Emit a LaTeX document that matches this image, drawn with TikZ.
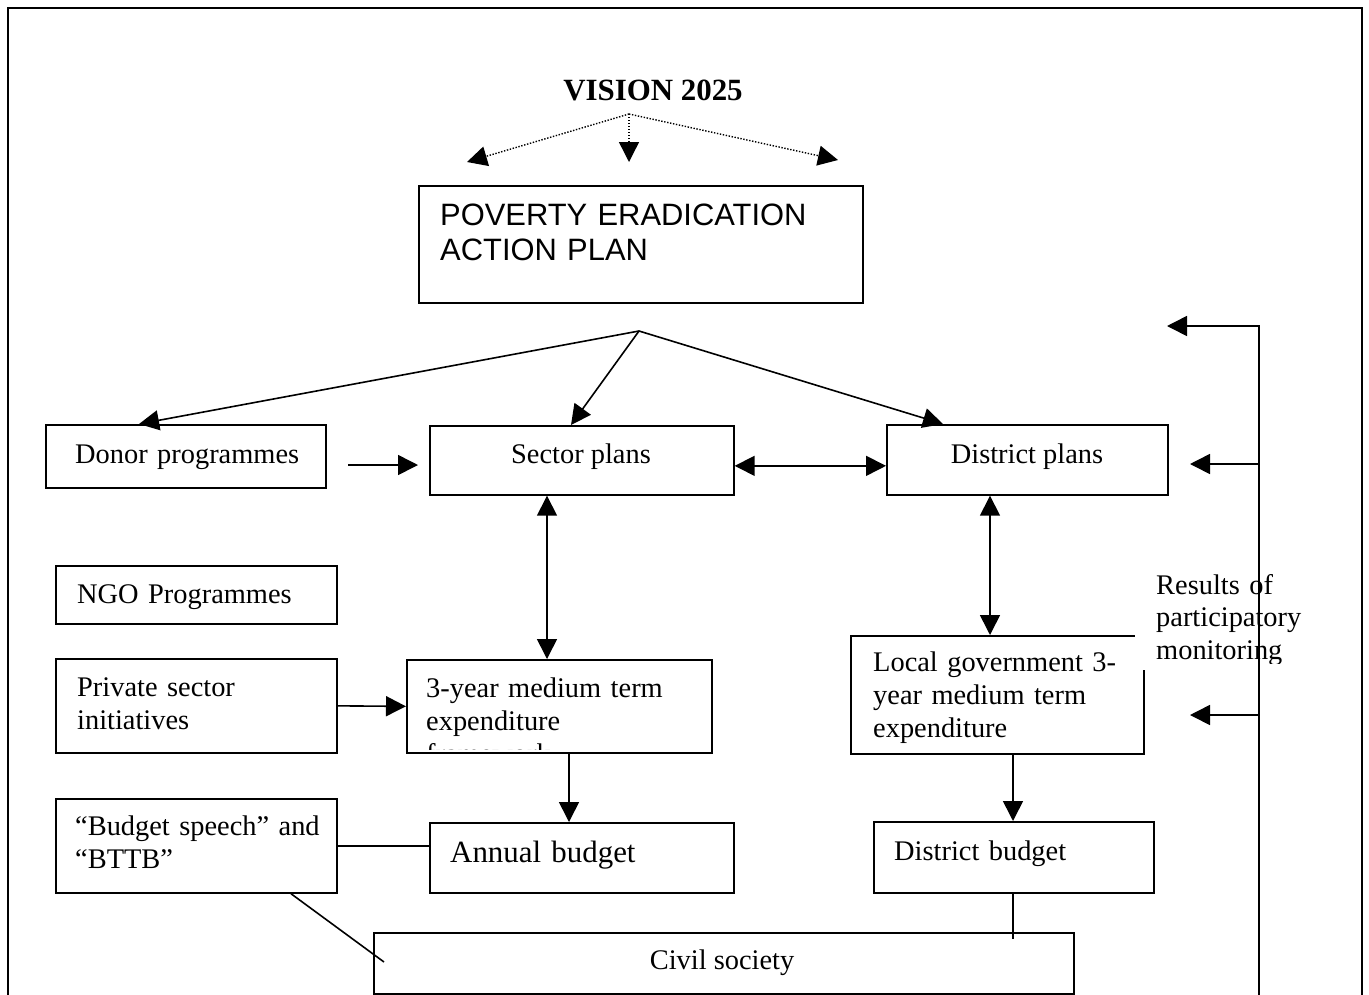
\documentclass[tikz,border=0pt]{standalone}
\usepackage{fontspec}
\setmainfont{Liberation Serif}
\newfontfamily\arialfont{Liberation Sans}
\usetikzlibrary{arrows.meta,calc}
\begin{document}
\begin{tikzpicture}[x=1pt,y=-1pt,
  boxn/.style={draw, line width=1.7pt, rectangle, inner sep=0pt, anchor=north west},
  txt/.style={font=\fontsize{28.4}{33}\selectfont, anchor=base west, inner sep=0pt, text width=300pt, align=left},
  ctxt/.style={font=\fontsize{28.4}{33}\selectfont, anchor=base, inner sep=0pt},
  arr/.style={line width=1.6pt, -{Triangle[length=20pt,width=20pt]}},
  darr/.style={line width=1.6pt, {Triangle[length=20pt,width=20pt]}-{Triangle[length=20pt,width=20pt]}},
  dotarr/.style={line width=1.4pt, dash pattern=on 1.4pt off 1.6pt, -{Triangle[length=20pt,width=20pt]}},
  ln/.style={line width=1.6pt}]
\useasboundingbox (0,0) rectangle (1369,994);
\clip (0,0) rectangle (1369,994);
\fill[white] (0,0) rectangle (1369,994);
% outer frame
\draw[line width=2pt] (8,8) rectangle (1362,1010);

% Vision
\node[font=\bfseries\fontsize{30.9}{35}\selectfont, anchor=base, inner sep=0pt] (vision) at (653,100) {VISION 2025};
\coordinate (vapex) at (629,114);
\coordinate (vL) at (467,162);
\coordinate (vM) at (629,162);
\coordinate (vR) at (838,160);
\draw[dotarr] (vapex) -- (vL);
\draw[dotarr] (vapex) -- (vM);
\draw[dotarr] (vapex) -- (vR);

% PEAP
\node[boxn, minimum width=444, minimum height=117] (peap) at (418,185) {};
\node[font=\arialfont\fontsize{30.9}{35}\selectfont, anchor=base west, inner sep=0pt, text width=420pt, align=left] (peapT) at (440,225) {POVERTY ERADICATION\\ACTION PLAN};

% row 1
\node[boxn, minimum width=280, minimum height=63] (donor) at (45,424) {};
\node[txt] (donorT) at (75,463) {Donor programmes};
\node[boxn, minimum width=304, minimum height=69] (sector) at (429,425) {};
\node[ctxt] (sectorT) at (581,463) {Sector plans};
\node[boxn, minimum width=281, minimum height=70] (district) at (886,424) {};
\node[ctxt] (districtT) at (1027,463) {District plans};

% left column
\node[boxn, minimum width=281, minimum height=58] (ngo) at (55,565) {};
\node[txt] (ngoT) at (77,603) {NGO Programmes};
\node[boxn, minimum width=281, minimum height=94] (private) at (55,658) {};
\node[txt] (privateT) at (77,696) {Private sector\\initiatives};
\node[boxn, minimum width=281, minimum height=94] (speech) at (55,798) {};
\node[txt] (speechT) at (75,835) {“Budget speech” and\\“BTTB”};

% MTEF
\node[boxn, minimum width=305, minimum height=93] (mtef) at (406,659) {};
\begin{scope}
\clip (406,659) rectangle (711,749);
\node[txt] (mtefT) at (426,697) {3-year medium term\\expenditure\\framework};
\end{scope}

% annual budget
\node[boxn, minimum width=304, minimum height=70] (annual) at (429,822) {};
\node[txt, font=\fontsize{30.9}{35}\selectfont] (annualT) at (450,862) {Annual budget};

% local government
\node[boxn, minimum width=293, minimum height=118] (lg) at (850,635) {};
\node[txt] (lgT) at (873,671) {Local government 3-\\year medium term\\expenditure};

% district budget
\node[boxn, minimum width=280, minimum height=71] (dbudget) at (873,821) {};
\node[txt] (dbudgetT) at (894,860) {District budget};

% civil society
\node[boxn, minimum width=700, minimum height=61] (civil) at (373,932) {};
\node[ctxt] (civilT) at (722,969) {Civil society};

% arrows from PEAP
\coordinate (papex) at (639,331);
\draw[arr] (papex) -- ([xshift=94pt]donor.north west);
\draw[arr] (papex) -- ([xshift=142pt]sector.north west);
\draw[arr] (papex) -- ([xshift=57pt]district.north west);

% donor -> sector
\coordinate (dsA) at (348,465);
\coordinate (dsB) at (418,465);
\draw[arr] (dsA) -- (dsB);

% sector <-> district
\draw[darr] ([yshift=-5.5pt]sector.east) -- ([yshift=-6pt]district.west);
% sector <-> mtef
\draw[darr] ([xshift=118pt]sector.south west) -- ([xshift=141pt]mtef.north west);
% district <-> lg
\draw[darr] ([xshift=104pt]district.south west) -- ([xshift=140pt]lg.north west);
% private -> mtef
\draw[arr] (private.east) -- (mtef.west);
% mtef -> annual
\draw[arr] ([xshift=163pt]mtef.south west) -- ([xshift=140pt]annual.north west);
% speech -- annual
\draw[ln] (speech.east) -- (speech.east -| annual.west);
% lg -> district budget
\draw[arr] ([xshift=163pt]lg.south west) -- ([xshift=140pt]dbudget.north west);
% district budget -- civil
\draw[ln] ([xshift=140pt]dbudget.south west) -- ([xshift=640pt,yshift=-7pt]civil.north west);
% speech -- civil
\draw[ln] ([xshift=236pt]speech.south west) -- ([xshift=11pt,yshift=-30pt]civil.north west);

% results of participatory monitoring
\node[fill=white, inner sep=0pt, anchor=north west, minimum width=180, minimum height=106] (results) at (1135,564) {};
\begin{scope}
\clip (1135,564) rectangle (1315,663);
\node[txt, font=\fontsize{28.4}{32.5}\selectfont, text width=170pt] (resultsT) at (1156,594) {Results of\\participatory\\monitoring};
\end{scope}

% feedback line
\coordinate (fbTop) at (1259,326);
\coordinate (fbBot) at (1259,1010);
\coordinate (fb2) at (1259,464);
\coordinate (fb3) at (1259,715);
\coordinate (t1) at (1167,326);
\coordinate (t2) at (1190,464);
\coordinate (t3) at (1190,715);
\draw[arr] (fbBot) -- (fbTop) -- (t1);
\draw[arr] (fb2) -- (t2);
\draw[arr] (fb3) -- (t3);
\end{tikzpicture}
\end{document}
